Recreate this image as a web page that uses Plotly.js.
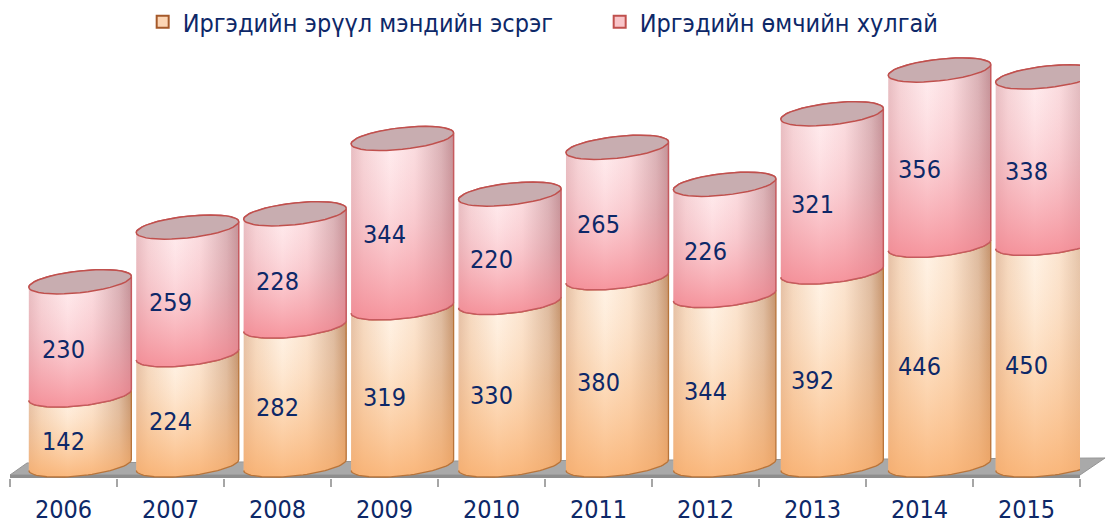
<!DOCTYPE html>
<html>
<head>
<meta charset="utf-8">
<script src="https://cdn.plot.ly/plotly-3.0.1.min.js"></script>
<style>
html, body { margin: 0; padding: 0; background: #ffffff; }
#chart { width: 1107px; height: 527px; }
</style>
</head>
<body>
<div id="chart"></div>
<script>
// ---- data ----
const years = ['2006', '2007', '2008', '2009', '2010', '2011', '2012', '2013', '2014', '2015'];
const healthVals = [142, 224, 282, 319, 330, 380, 344, 392, 446, 450];
const propertyVals = [230, 259, 228, 344, 220, 265, 226, 321, 356, 338];
const seriesNames = ['Иргэдийн эрүүл мэндийн эсрэг', 'Иргэдийн өмчийн хулгай'];

// ---- style ----
const FONT = '"DejaVu Sans Condensed", "DejaVu Sans", sans-serif';
const NAVY = '#0D2868';
const HALF = 0.479;      // cylinder half width (x units)
const B = 22;            // ellipse vertical semi-axis (y units)
const T = 11;            // ellipse tilt (y units)
const NPTS = 40;
const LABEL_SHIFT = 28;  // labels sit a little below segment middle (front face)
const offsetOf = i => 0.155 + 0.004 * i;

const idx = years.map((_, i) => i);

function arc(cx, level, t0, t1) {
  const xs = [], ys = [];
  for (let k = 0; k <= NPTS; k++) {
    const t = t0 + (t1 - t0) * k / NPTS;
    xs.push(cx + HALF * Math.cos(t));
    ys.push(level + B * Math.sin(t) + T * Math.cos(t));
  }
  return { xs, ys };
}
function join(a, b) { return { xs: a.xs.concat(b.xs), ys: a.ys.concat(b.ys) }; }

const orangeH = [[0, '#E4BFA4'], [0.12, '#F5D9C0'], [0.38, '#FFF3E6'], [0.62, '#FBE4CF'], [0.88, '#DDBA9E'], [1, '#C4926B']];
const orangeV = [[0, 'rgba(249,170,100,0.80)'], [0.55, 'rgba(250,185,125,0.30)'], [1, 'rgba(255,220,190,0)']];
const pinkH = [[0, '#E6BDC1'], [0.12, '#F5D5D8'], [0.38, '#FFEEF0'], [0.62, '#FADDE0'], [0.88, '#D8B1B5'], [1, '#C18F94']];
const pinkV = [[0, 'rgba(244,128,138,0.80)'], [0.5, 'rgba(245,150,160,0.30)'], [1, 'rgba(255,200,205,0)']];

const traces = [];

// legend / base bars (hidden behind the cylinders)
traces.push({
  type: 'bar', x: idx, y: healthVals, name: seriesNames[0],
  width: 0.8, offset: idx.map(i => offsetOf(i) - 0.4),
  marker: { color: '#FCD5B4', line: { color: '#A5592A', width: 2 } },
  hoverinfo: 'skip'
});
traces.push({
  type: 'bar', x: idx, y: propertyVals, name: seriesNames[1],
  width: 0.8, offset: idx.map(i => offsetOf(i) - 0.4),
  marker: { color: '#F9C5C9', line: { color: '#C0504D', width: 2 } },
  hoverinfo: 'skip'
});

function fillTrace(poly, grad, type, line) {
  return {
    type: 'scatter', mode: 'lines', x: poly.xs, y: poly.ys, fill: 'toself',
    fillgradient: { type: type, colorscale: grad },
    line: line || { width: 0, color: 'rgba(0,0,0,0)' },
    showlegend: false, hoverinfo: 'skip', cliponaxis: false
  };
}

idx.forEach(i => {
  const cx = i + offsetOf(i);
  const v1 = healthVals[i];
  const top = healthVals[i] + propertyVals[i];
  // lower (orange) segment
  const lower = join(arc(cx, 0, Math.PI, 2 * Math.PI), arc(cx, v1, 2 * Math.PI, Math.PI));
  traces.push(fillTrace(lower, orangeH, 'horizontal'));
  traces.push(fillTrace(lower, orangeV, 'vertical', { color: '#B8743A', width: 1.3 }));
  // upper (pink) segment
  const upper = join(arc(cx, v1, Math.PI, 2 * Math.PI), arc(cx, top, 0, Math.PI));
  traces.push(fillTrace(upper, pinkH, 'horizontal'));
  traces.push(fillTrace(upper, pinkV, 'vertical', { color: '#C65A5E', width: 1.5 }));
  // top cap
  const cap = arc(cx, top, 0, 2 * Math.PI);
  traces.push({
    type: 'scatter', mode: 'lines', x: cap.xs, y: cap.ys, fill: 'toself',
    fillcolor: '#C8ADB0', line: { color: '#C0504D', width: 1.5 },
    showlegend: false, hoverinfo: 'skip', cliponaxis: false
  });
});

// value labels
traces.push({
  type: 'scatter', mode: 'text', x: idx,
  y: healthVals.map(v => v / 2 - LABEL_SHIFT),
  text: healthVals.map(String),
  textfont: { family: FONT, size: 25, color: NAVY },
  showlegend: false, hoverinfo: 'skip', cliponaxis: false
});
traces.push({
  type: 'scatter', mode: 'text', x: idx,
  y: propertyVals.map((v, i) => healthVals[i] + v / 2 - LABEL_SHIFT),
  text: propertyVals.map(String),
  textfont: { family: FONT, size: 25, color: NAVY },
  showlegend: false, hoverinfo: 'skip', cliponaxis: false
});

const boundaries = idx.map(i => i - 0.5).concat([idx.length - 0.5]);

const layout = {
  width: 1107, height: 527,
  margin: { l: 10, r: 27, t: 55, b: 49, autoexpand: false },
  paper_bgcolor: '#ffffff', plot_bgcolor: '#ffffff',
  barmode: 'stack',
  hovermode: false,
  showlegend: true,
  legend: {
    orientation: 'h', traceorder: 'normal',
    x: 0.124, xanchor: 'left', y: 1.078, yanchor: 'middle',
    entrywidth: 412, entrywidthmode: 'pixels',
    font: { family: FONT, size: 25, color: NAVY },
    bgcolor: 'rgba(0,0,0,0)', itemclick: false, itemdoubleclick: false
  },
  xaxis: {
    type: 'linear', range: [-0.5, idx.length - 0.5],
    tickmode: 'array', tickvals: idx, ticktext: years, ticks: '',
    showgrid: false, zeroline: false, showline: false, fixedrange: true,
    tickfont: { family: FONT, size: 25, color: NAVY },
    ticklabelstandoff: 14,
    minor: { tickmode: 'array', tickvals: boundaries, ticks: 'outside', ticklen: 8, tickwidth: 2, tickcolor: '#A6A6A6', showgrid: false }
  },
  yaxis: { range: [-26.4, 832.5], visible: false, fixedrange: true },
  shapes: [
    { type: 'path', xref: 'paper', yref: 'paper', layer: 'below',
      path: 'M 0 0.0071 L 1 0.0071 L 1.0234 0.0473 L 0.0159 0.0355 Z',
      fillcolor: '#A9A9A9', line: { color: '#959595', width: 1 } },
    { type: 'rect', xref: 'paper', yref: 'paper', layer: 'below',
      x0: 0, x1: 1, y0: 0, y1: 0.0071,
      fillcolor: '#8E8E8E', line: { width: 0 } }
  ]
};

Plotly.newPlot('chart', traces, layout, { displayModeBar: false, staticPlot: true });
</script>
</body>
</html>
